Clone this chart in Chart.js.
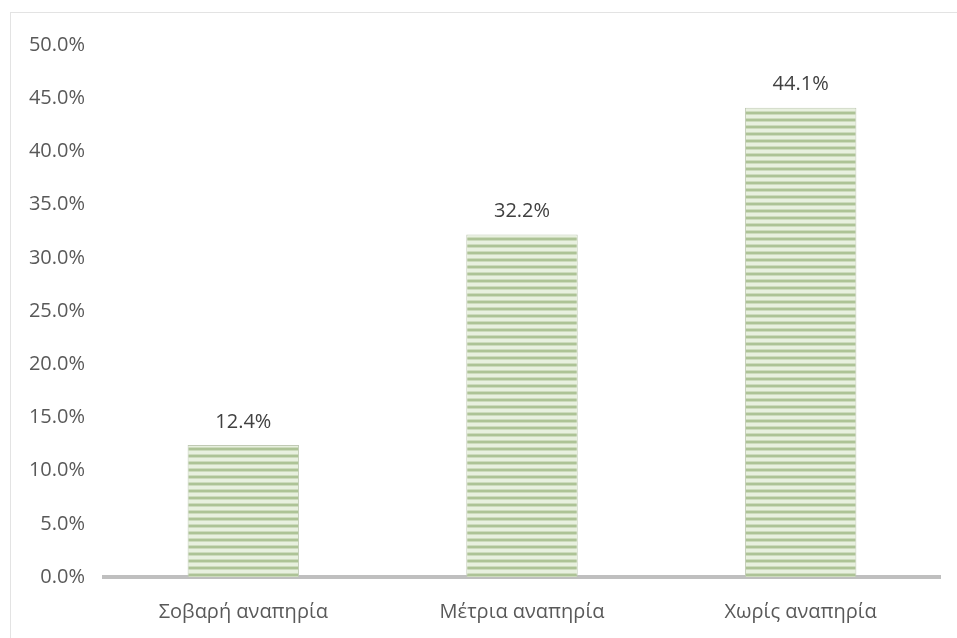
<!DOCTYPE html>
<html>
<head>
<meta charset="utf-8">
<script src="https://cdn.jsdelivr.net/npm/chart.js@4"></script>
<style>
  html, body { margin: 0; padding: 0; background: #fff; }
  #wrap { position: relative; width: 957px; height: 638px; }
  #frame { position: absolute; left: 10px; top: 12px; right: -2px; bottom: -2px; border: 1px solid #e3e3e3; }
  canvas { position: absolute; left: 0; top: 0; }
</style>
</head>
<body>
<div id="wrap">
  <div id="frame"></div>
  <canvas id="chart" width="957" height="638"></canvas>
</div>
<script>
const categories = ["Σοβαρή αναπηρία", "Μέτρια αναπηρία", "Χωρίς αναπηρία"];
const values = [12.4, 32.2, 44.1];
const tickValues = [0, 5, 10, 15, 20, 25, 30, 35, 40, 45, 50];

// striped fill like the original hatch
function stripes() {
  const c = document.createElement("canvas");
  c.width = 4;
  c.height = 7;
  const g = c.getContext("2d");
  g.fillStyle = "#e8f0df";
  g.fillRect(0, 0, 4, 7);
  g.fillStyle = "#adc396";
  g.fillRect(0, 0, 4, 2);
  g.fillStyle = "#cddbbd";
  g.fillRect(0, 2, 4, 1);
  g.fillRect(0, 6, 4, 1);
  return g.createPattern(c, "repeat");
}

const labelPlugin = {
  id: "valueLabels",
  afterDatasetsDraw(chart) {
    const ctx = chart.ctx;
    const meta = chart.getDatasetMeta(0);
    ctx.save();
    ctx.font = "20px 'Open Sans'";
    ctx.fillStyle = "#404040";
    ctx.textAlign = "center";
    ctx.textBaseline = "bottom";
    meta.data.forEach((bar, i) => {
      ctx.fillText(values[i].toFixed(1) + "%", bar.x, bar.y - 13);
    });
    ctx.restore();
  }
};

const ctx = document.getElementById("chart").getContext("2d");
new Chart(ctx, {
  type: "bar",
  data: {
    labels: categories,
    datasets: [{
      data: values,
      backgroundColor: stripes(),
      borderColor: "#c0cab4",
      borderWidth: 1,
      borderSkipped: "bottom",
      categoryPercentage: 1,
      barPercentage: 0.4
    }]
  },
  options: {
    responsive: false,
    animation: false,
    layout: { padding: { top: 45, right: 17, left: 0, bottom: 0 } },
    plugins: { legend: { display: false }, tooltip: { enabled: false } },
    scales: {
      x: {
        grid: { display: false, drawTicks: false },
        border: { display: true, color: "#bfbfbf", width: 4 },
        ticks: { color: "#595959", font: { family: "'Open Sans'", size: 20 }, padding: 23 },
        afterFit(scale) { scale.height = 61; }
      },
      y: {
        min: 0,
        max: 50,
        afterBuildTicks(scale) { scale.ticks = tickValues.map(v => ({ value: v })); },
        grid: { display: false, drawTicks: false },
        border: { display: false },
        ticks: {
          color: "#595959",
          font: { family: "'Open Sans'", size: 20 },
          padding: 19,
          callback: v => v.toFixed(1) + "%"
        },
        afterFit(scale) { scale.width = 104; }
      }
    }
  },
  plugins: [labelPlugin]
});
</script>
</body>
</html>
